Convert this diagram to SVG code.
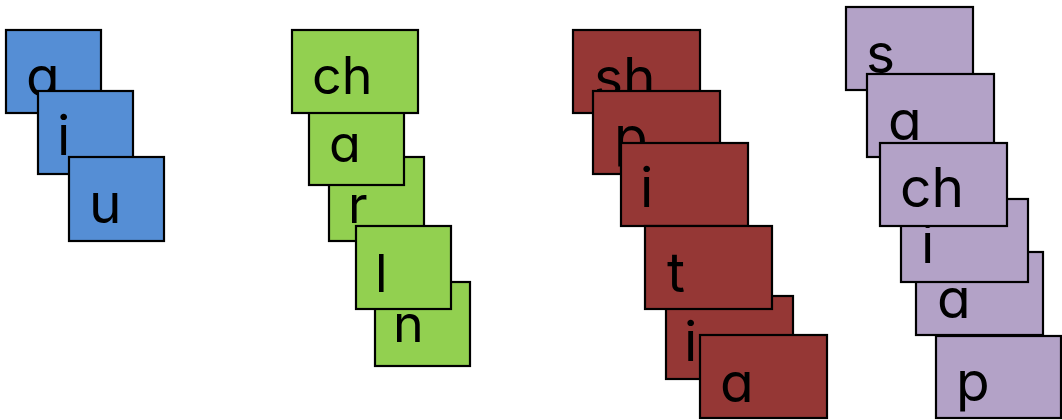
<svg xmlns="http://www.w3.org/2000/svg" width="1062" height="420" viewBox="0 0 1062 420">
<style>
rect{stroke:#000;stroke-width:2.2}
.b rect{fill:#558ED5}
.g rect{fill:#92D050}
.r rect{fill:#953735}
.p rect{fill:#B3A2C7}
text{font-family:Inter,"DejaVu Sans",sans-serif;font-size:55px;fill:#000;font-feature-settings:"cv11" 1}
.g text{font-size:52px}
</style>
<rect width="1062" height="420" fill="#fff" style="stroke:none"/>
<g class="b">
<g id="blue-a"><rect x="6" y="30" width="95" height="83"/><text x="26" y="96">a</text></g>
<g id="blue-i"><rect x="38" y="91" width="95" height="83"/><text x="57" y="155">i</text></g>
<g id="blue-u"><rect x="69" y="157" width="95" height="84"/><text x="89" y="223">u</text></g>
</g>
<g class="g">
<g id="green-n"><rect x="375" y="282" width="95" height="84"/><text x="393" y="342">n</text></g>
<g id="green-r"><rect x="329" y="157" width="95" height="84"/><text x="348" y="223">r</text></g>
<g id="green-l"><rect x="356" y="226" width="95" height="83"/><text x="375" y="292">l</text></g>
<g id="green-a"><rect x="309" y="102" width="95" height="83"/><text x="329" y="162">a</text></g>
<g id="green-ch"><rect x="292" y="30" width="126" height="83"/><text x="312" y="94">ch</text></g>
</g>
<g class="r">
<g id="red-sh"><rect x="573" y="30" width="127" height="83"/><text x="594" y="97">sh</text></g>
<g id="red-p"><rect x="593" y="91" width="127" height="83"/><text x="614" y="156">p</text></g>
<g id="red-i"><rect x="621" y="143" width="127" height="83"/><text x="640" y="207">i</text></g>
<g id="red-i2"><rect x="666" y="296" width="127" height="83"/><text x="684" y="361">i</text></g>
<g id="red-t"><rect x="645" y="226" width="127" height="83"/><text x="667" y="292">t</text></g>
<g id="red-a"><rect x="700" y="335" width="127" height="83"/><text x="720" y="402">a</text></g>
</g>
<g class="p">
<g id="purple-s"><rect x="846" y="7" width="127" height="83"/><text x="866" y="73">s</text></g>
<g id="purple-a"><rect x="867" y="74" width="127" height="83"/><text x="888" y="140">a</text></g>
<g id="purple-a2"><rect x="916" y="252" width="127" height="83"/><text x="937" y="318">a</text></g>
<g id="purple-i"><rect x="901" y="199" width="127" height="83"/><text x="921" y="263">i</text></g>
<g id="purple-ch"><rect x="880" y="143" width="127" height="83"/><text x="900" y="207">ch</text></g>
<g id="purple-p"><rect x="936" y="336" width="125" height="82"/><text x="956" y="401">p</text></g>
</g>
</svg>
